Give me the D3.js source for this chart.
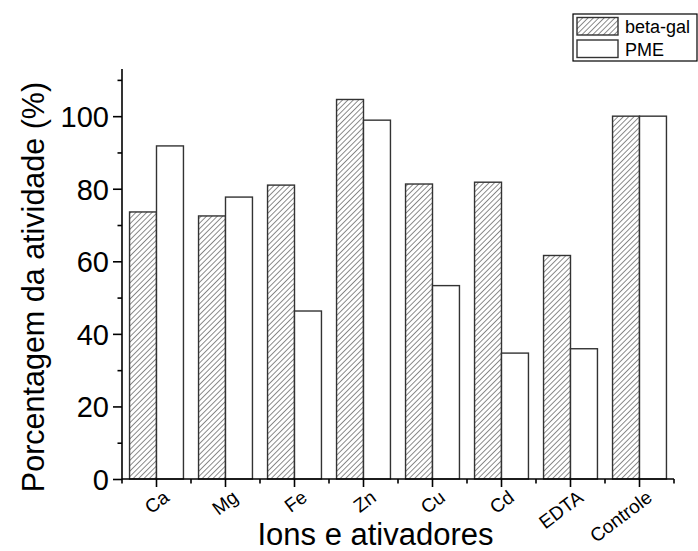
<!DOCTYPE html>
<html>
<head>
<meta charset="utf-8">
<script src="https://cdn.jsdelivr.net/npm/d3@7"></script>
<style>
  body { margin: 0; background: #fff; }
  svg { font-family: "Liberation Sans", Arial, Helvetica, sans-serif; }
</style>
</head>
<body>
<svg id="chart" width="698" height="551"></svg>
<script>
var categories = ["Ca", "Mg", "Fe", "Zn", "Cu", "Cd", "EDTA", "Controle"];
var series = ["beta-gal", "PME"];
var betaGal = [73.6, 72.5, 81.0, 104.6, 81.3, 81.8, 61.6, 100.0];
var pme = [91.8, 77.7, 46.3, 98.9, 53.3, 34.7, 35.9, 100.0];
var majorTicks = [0, 20, 40, 60, 80, 100];
var minorTicks = [10, 30, 50, 70, 90, 110];

var svg = d3.select("#chart");

// hatch pattern for beta-gal bars
var defs = svg.append("defs");
defs.append("pattern")
  .attr("id", "hatch")
  .attr("patternUnits", "userSpaceOnUse")
  .attr("width", 3.8)
  .attr("height", 3.8)
  .attr("patternTransform", "rotate(45)")
  .append("line")
  .attr("x1", 0).attr("y1", 0)
  .attr("x2", 0).attr("y2", 3.8)
  .attr("stroke", "#000")
  .attr("stroke-width", 0.9);

var x = d3.scaleBand().domain(categories).range([122, 674]);
var xs = d3.scaleBand().domain(series).range([0, x.bandwidth()]).paddingOuter(0.28);
var y = d3.scaleLinear().domain([0, 113]).range([479, 69]);

var data = categories.map(function(c, i) {
  return { cat: c, values: [betaGal[i], pme[i]] };
});

var groups = svg.append("g").selectAll("g")
  .data(data).enter().append("g")
  .attr("transform", function(d) { return "translate(" + x(d.cat) + ",0)"; });

groups.selectAll("rect")
  .data(function(d) { return d.values.map(function(v, j) { return { s: series[j], v: v }; }); })
  .enter().append("rect")
  .attr("x", function(d) { return xs(d.s); })
  .attr("y", function(d) { return y(d.v); })
  .attr("width", xs.bandwidth())
  .attr("height", function(d) { return y(0) - y(d.v); })
  .attr("fill", function(d) { return d.s === "beta-gal" ? "url(#hatch)" : "#fff"; })
  .attr("stroke", "#333")
  .attr("stroke-width", 1.4);

// y axis
var yAxis = svg.append("g").attr("transform", "translate(122,0)");
yAxis.call(d3.axisLeft(y).tickValues(majorTicks).tickSize(9).tickPadding(4).tickSizeOuter(0));
yAxis.append("g").call(d3.axisLeft(y).tickValues(minorTicks).tickSize(4.5).tickFormat("").tickSizeOuter(0))
  .select(".domain").remove();
yAxis.select(".domain").attr("d", "M0," + y(113) + "V" + y(0));
yAxis.selectAll("text").attr("font-size", 29).attr("fill", "#000").attr("dy", "0.36em");
yAxis.selectAll("line, path").attr("stroke", "#000").attr("stroke-width", 1.6);
yAxis.attr("font-family", null);

// x axis: major ticks at category centres, minor ticks between categories
var centers = categories.map(function(c) { return x(c) + x.bandwidth() / 2; });
var bounds = categories.map(function(c) { return x(c); }).concat([x.range()[1]]);
var xAxis = svg.append("g").attr("transform", "translate(0," + y(0) + ")");
xAxis.append("line")
  .attr("x1", x.range()[0]).attr("x2", x.range()[1])
  .attr("stroke", "#000").attr("stroke-width", 1.6);
xAxis.selectAll(".mn").data(bounds).enter().append("line")
  .attr("x1", function(d) { return d; }).attr("x2", function(d) { return d; })
  .attr("y1", 0).attr("y2", 4.5)
  .attr("stroke", "#000").attr("stroke-width", 1.6);
xAxis.selectAll(".mj").data(centers).enter().append("line")
  .attr("x1", function(d) { return d; }).attr("x2", function(d) { return d; })
  .attr("y1", 0).attr("y2", 8)
  .attr("stroke", "#000").attr("stroke-width", 1.6);
xAxis.selectAll(".lbl").data(categories).enter().append("text")
  .attr("transform", function(d) {
    return "translate(" + (x(d) + x.bandwidth() / 2 + 14) + ",21) rotate(-37)";
  })
  .attr("text-anchor", "end")
  .attr("font-size", 19)
  .attr("fill", "#000")
  .text(function(d) { return d; });

// axis titles
svg.append("text")
  .attr("x", 375.5).attr("y", 545)
  .attr("text-anchor", "middle")
  .attr("font-size", 31)
  .text("Ions e ativadores");

svg.append("text")
  .attr("transform", "translate(44,287) rotate(-90)")
  .attr("text-anchor", "middle")
  .attr("font-size", 30.5)
  .text("Porcentagem da atividade (%)");

// legend
var legend = svg.append("g");
legend.append("rect")
  .attr("x", 573).attr("y", 14).attr("width", 124).attr("height", 47)
  .attr("fill", "#fff").attr("stroke", "#000").attr("stroke-width", 1.2);
var li = legend.selectAll(".item").data(series).enter().append("g")
  .attr("transform", function(d, i) { return "translate(577," + (17.5 + i * 22.5) + ")"; });
li.append("rect")
  .attr("width", 41).attr("height", 17.5)
  .attr("fill", function(d) { return d === "beta-gal" ? "url(#hatch)" : "#fff"; })
  .attr("stroke", "#333").attr("stroke-width", 1.4);
li.append("text")
  .attr("x", 48).attr("y", 15.5)
  .attr("font-size", 18)
  .text(function(d) { return d; });
</script>
</body>
</html>
